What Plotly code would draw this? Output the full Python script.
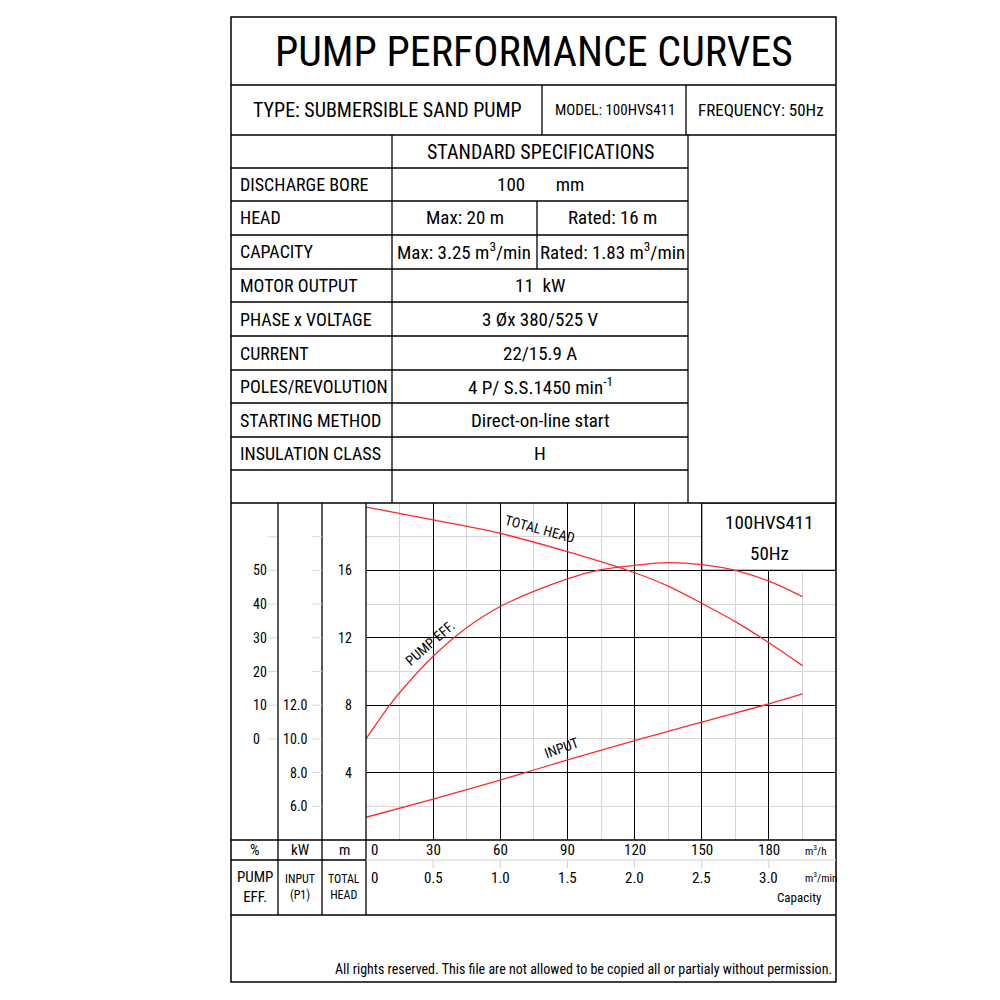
import plotly.graph_objects as go

# curve readings (flow in m3/h)
head_flow = [0, 30, 60, 90, 120, 135, 150, 165, 180, 195]
total_head = [19.76, 19.0, 18.2, 17.11, 15.86, 15.07, 14.05, 12.96, 11.71, 10.35]   # m

input_flow = [0, 30, 60, 90, 120, 150, 180, 195]
input_kw = [5.35, 6.43, 7.56, 8.75, 9.9, 11.0, 12.08, 12.67]                         # kW

eff_flow = [0, 10, 15, 30, 45, 60, 90, 105, 120, 135, 150, 165, 180, 195]
pump_eff = [0, 9.5, 13.7, 24.5, 33.0, 39.3, 47.5, 50.2, 51.5, 52.3, 51.7, 50.0, 46.8, 42.2]  # %

# axis ticks
flow_ticks = [0, 30, 60, 90, 120, 150, 180]
min_ticks = ["0", "0.5", "1.0", "1.5", "2.0", "2.5", "3.0"]
head_ticks = [4, 8, 12, 16]
eff_ticks = [0, 10, 20, 30, 40, 50]
kw_ticks = [6.0, 8.0, 10.0, 12.0]

# spec table
spec_labels = ["DISCHARGE BORE", "HEAD", "CAPACITY", "MOTOR OUTPUT", "PHASE x VOLTAGE",
               "CURRENT", "POLES/REVOLUTION", "STARTING METHOD", "INSULATION CLASS"]
spec_values = ["100       mm", None, None, "11  kW", "3 Øx 380/525 V", "22/15.9 A",
               "4 P/ S.S.1450 min<sup>-1</sup>", "Direct-on-line start", "H"]
head_split = ["Max: 20 m", "Rated: 16 m"]
cap_split = ["Max: 3.25 m<sup>3</sup>/min", "Rated: 1.83 m<sup>3</sup>/min"]


# secondary scales drawn on the head axis
def eff_to_head(e):
    return e / 5 + 6


def kw_to_head(k):
    return k - 4


FONT = "Roboto Condensed, Roboto, Liberation Sans, sans-serif"
RED = "#ff2a2a"
W = 984  # page has an 8px body margin


def px(x):
    return (x - 8) / W


def py(y):
    return 1 - (y - 8) / W


shapes = []
annotations = []


def line(x0, y0, x1, y1, color="black", width=1.3):
    shapes.append(dict(type="line", xref="paper", yref="paper",
                       x0=px(x0), y0=py(y0), x1=px(x1), y1=py(y1),
                       line=dict(color=color, width=width)))


def text(x, y, s, size=16, xanchor="center", angle=0):
    annotations.append(dict(x=px(x), y=py(y), xref="paper", yref="paper", text=s,
                            showarrow=False, xanchor=xanchor, yanchor="middle", textangle=angle,
                            font=dict(family=FONT, size=size, color="black")))


def scale_label(x, y, s, xanchor):
    annotations.append(dict(x=px(x), y=y, xref="paper", yref="y", text=s,
                            showarrow=False, xanchor=xanchor, yanchor="middle",
                            font=dict(family=FONT, size=14, color="black")))


# outer frame
shapes.append(dict(type="rect", xref="paper", yref="paper", x0=px(231), y0=py(17),
                   x1=px(836), y1=py(982), line=dict(color="black", width=1.5)))

for yy in [85, 135, 503, 840, 915]:
    line(231, yy, 836, yy)

# type row
line(542, 85, 542, 135)
line(686, 85, 686, 135)

# spec table grid
rows = [135, 168, 201, 235, 269, 302, 336, 370, 403, 437, 470, 503]
line(392, 135, 392, 503)
line(688, 135, 688, 503)
for yy in rows[1:-1]:
    line(231, yy, 688, yy)
line(537, 201, 537, 269)

# chart side columns
for xx in [278, 322, 366]:
    line(xx, 503, xx, 915)
line(231, 860, 366, 860)
line(366, 860, 836, 860, color="#cfcfcf", width=1)

# small grey ticks by the left scales
for h in range(2, 20, 2):
    yy = 840 - h * 16.85
    if h >= 6:
        line(268, yy, 277, yy, color="#d8d8d8", width=1)
    line(312, yy, 322, yy, color="#d8d8d8", width=1)

# grey ticks under the flow labels
for f in flow_ticks[1:]:
    shapes.append(dict(type="line", xref="x", yref="paper", x0=f, x1=f,
                       y0=py(860), y1=py(868), line=dict(color="#d0d0d0", width=1)))

# model box in the top right of the chart
shapes.append(dict(type="rect", xref="x", yref="y", x0=150, x1=210, y0=16, y1=20,
                   fillcolor="white", line=dict(color="black", width=1.2), layer="between"))

# header texts
text(534, 51, "PUMP PERFORMANCE CURVES", size=42)
text(387, 110, "TYPE: SUBMERSIBLE SAND PUMP", size=20)
text(615, 110, "MODEL: 100HVS411", size=15)
text(761, 110, "FREQUENCY: 50Hz", size=17)
text(540, 152, "STANDARD SPECIFICATIONS", size=20)

for i, lab in enumerate(spec_labels):
    yc = (rows[i + 1] + rows[i + 2]) / 2
    text(238, yc, lab, size=18, xanchor="left")
    val = spec_values[i]
    if lab == "HEAD":
        text(465, yc, head_split[0], size=19)
        text(612, yc, head_split[1], size=19)
    elif lab == "CAPACITY":
        text(464, yc, cap_split[0], size=19)
        text(612, yc, cap_split[1], size=19)
    else:
        text(540, yc, val, size=19)

# chart texts
text(769, 522, "100HVS411", size=19)
text(769, 553, "50Hz", size=19)

text(255, 850, "%", size=15)
text(300, 850, "kW", size=15)
text(344, 850, "m", size=15)
text(255, 887, "PUMP<br>EFF.", size=15)
text(300, 887, "INPUT<br>(P1)", size=12)
text(344, 887, "TOTAL<br>HEAD", size=12)

for e in eff_ticks:
    scale_label(251, eff_to_head(e), str(e), "left")
for k in kw_ticks:
    scale_label(310, kw_to_head(k), f"{k:.1f}", "right")
for h in head_ticks:
    scale_label(354, h, str(h), "right")

for f, m in zip(flow_ticks, min_ticks):
    anchor = "left" if f == 0 else "center"
    xs = 3 if f == 0 else 0
    for yy, s in [(850, str(f)), (878, m)]:
        annotations.append(dict(x=f, y=py(yy), xref="x", yref="paper", text=s, xshift=xs,
                                showarrow=False, xanchor=anchor, yanchor="middle",
                                font=dict(family=FONT, size=15, color="black")))

text(816, 850, "m<sup>3</sup>/h", size=11)
text(821, 877, "m<sup>3</sup>/min", size=11)
text(799, 897, "Capacity", size=13)
text(834, 969, "All rights reserved. This file are not allowed to be copied all or partialy without permission.",
     size=14, xanchor="right")

# curve labels
text(540, 529, "TOTAL HEAD", size=14, angle=15)
text(430, 643, "PUMP EFF.", size=14, angle=-41)
text(561, 748, "INPUT", size=14, angle=-20)

fig = go.Figure()
fig.add_trace(go.Scatter(x=head_flow, y=total_head, mode="lines",
                         line=dict(color=RED, width=1.3, shape="spline")))
fig.add_trace(go.Scatter(x=eff_flow, y=[eff_to_head(e) for e in pump_eff], mode="lines",
                         line=dict(color=RED, width=1.3, shape="spline")))
fig.add_trace(go.Scatter(x=input_flow, y=[kw_to_head(k) for k in input_kw], mode="lines",
                         line=dict(color=RED, width=1.3, shape="spline")))

fig.update_layout(
    width=W, height=W,
    margin=dict(l=0, r=0, t=0, b=0),
    paper_bgcolor="white", plot_bgcolor="white",
    showlegend=False,
    shapes=shapes, annotations=annotations,
    xaxis=dict(domain=[px(366), px(836)], range=[0, 210], dtick=30, tick0=0,
               showgrid=True, gridcolor="black", gridwidth=1, zeroline=False,
               showticklabels=False, ticks="",
               minor=dict(dtick=15, tick0=0, showgrid=True, gridcolor="#d6d6d6", gridwidth=1)),
    yaxis=dict(domain=[py(840), py(503)], range=[0, 20], dtick=4, tick0=0,
               showgrid=True, gridcolor="black", gridwidth=1, zeroline=False,
               showticklabels=False, ticks="",
               minor=dict(dtick=2, tick0=0, showgrid=True, gridcolor="#d6d6d6", gridwidth=1)),
)

fig.write_html("out.html")
